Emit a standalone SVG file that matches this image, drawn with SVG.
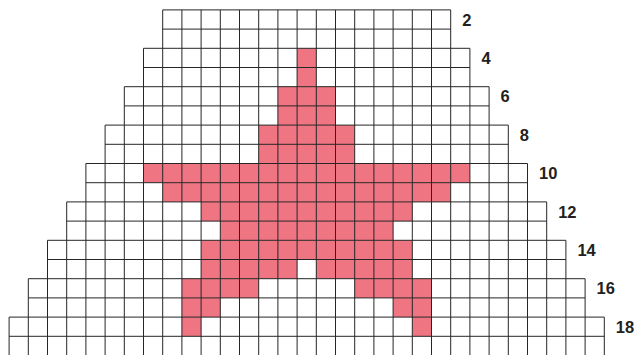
<svg xmlns="http://www.w3.org/2000/svg" width="637" height="355" viewBox="0 0 637 355">
  <style>
    .pink { fill: #F07582; stroke: none; }
    .grid { fill: none; stroke: #262626; stroke-width: 1; }
    .lbl { font-family: "Liberation Sans", Arial, sans-serif; font-weight: bold; font-size: 16.5px; fill: #231F20; }
  </style>
  <rect x="0" y="0" width="637" height="355" fill="#FFFFFF"/>
  <g id="star">
    <rect class="pink" x="297.1" y="48.3" width="19.2" height="38.4"/>
    <rect class="pink" x="277.9" y="86.7" width="57.6" height="38.4"/>
    <rect class="pink" x="258.7" y="125.1" width="96" height="38.4"/>
    <rect class="pink" x="143.5" y="163.5" width="326.4" height="19.2"/>
    <rect class="pink" x="162.7" y="182.7" width="288" height="19.2"/>
    <rect class="pink" x="201.1" y="201.9" width="211.2" height="19.2"/>
    <rect class="pink" x="220.3" y="221.1" width="172.8" height="19.2"/>
    <rect class="pink" x="201.1" y="240.3" width="211.2" height="19.2"/>
    <rect class="pink" x="201.1" y="259.5" width="96" height="19.2"/>
    <rect class="pink" x="316.3" y="259.5" width="96" height="19.2"/>
    <rect class="pink" x="181.9" y="278.7" width="76.8" height="19.2"/>
    <rect class="pink" x="354.7" y="278.7" width="76.8" height="19.2"/>
    <rect class="pink" x="181.9" y="297.9" width="38.4" height="19.2"/>
    <rect class="pink" x="393.1" y="297.9" width="38.4" height="19.2"/>
    <rect class="pink" x="181.9" y="317.1" width="19.2" height="19.2"/>
    <rect class="pink" x="412.3" y="317.1" width="19.2" height="19.2"/>
  </g>
  <g id="grid">
    <path class="grid" d="
      M162.7 9.9H450.7 M162.7 29.1H450.7
      M143.5 48.3H469.9 M143.5 67.5H469.9
      M124.3 86.7H489.1 M124.3 105.9H489.1
      M105.1 125.1H508.3 M105.1 144.3H508.3
      M85.9 163.5H527.5 M85.9 182.7H527.5
      M66.7 201.9H546.7 M66.7 221.1H546.7
      M47.5 240.3H565.9 M47.5 259.5H565.9
      M28.3 278.7H585.1 M28.3 297.9H585.1
      M9.1 317.1H604.3 M9.1 336.3H604.3
      M9.1 317.1V356 M604.3 317.1V356
      M28.3 278.7V356 M585.1 278.7V356
      M47.5 240.3V356 M565.9 240.3V356
      M66.7 201.9V356 M546.7 201.9V356
      M85.9 163.5V356 M527.5 163.5V356
      M105.1 125.1V356 M508.3 125.1V356
      M124.3 86.7V356 M489.1 86.7V356
      M143.5 48.3V356 M469.9 48.3V356
      M162.7 9.9V356 M181.9 9.9V356 M201.1 9.9V356 M220.3 9.9V356
      M239.5 9.9V356 M258.7 9.9V356 M277.9 9.9V356 M297.1 9.9V356
      M316.3 9.9V356 M335.5 9.9V356 M354.7 9.9V356 M373.9 9.9V356
      M393.1 9.9V356 M412.3 9.9V356 M431.5 9.9V356 M450.7 9.9V356"/>
  </g>
  <g id="labels">
    <text class="lbl" x="462.2" y="25.5">2</text>
    <text class="lbl" x="481.4" y="63.9">4</text>
    <text class="lbl" x="500.6" y="102.3">6</text>
    <text class="lbl" x="519.8" y="140.7">8</text>
    <text class="lbl" x="539" y="179.1">10</text>
    <text class="lbl" x="558.2" y="217.5">12</text>
    <text class="lbl" x="577.4" y="255.9">14</text>
    <text class="lbl" x="596.6" y="294.3">16</text>
    <text class="lbl" x="615.8" y="332.7">18</text>
  </g>
</svg>
